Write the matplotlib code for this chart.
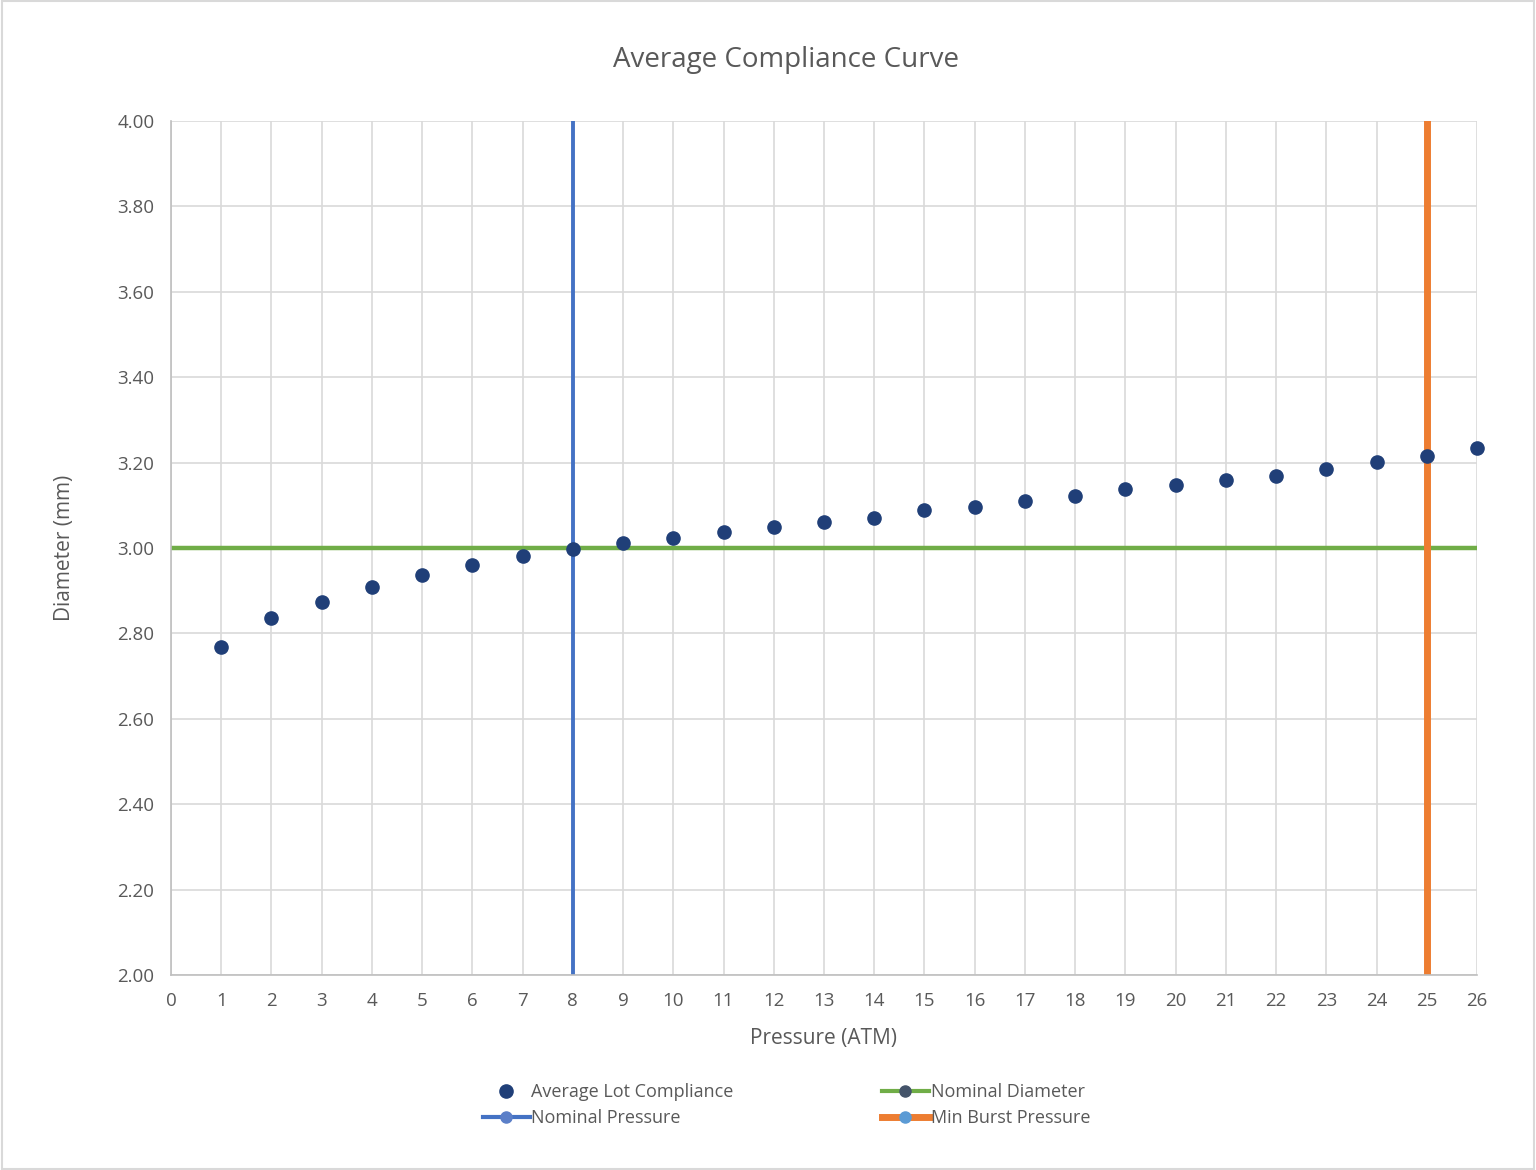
import matplotlib.pyplot as plt
from matplotlib.lines import Line2D
from matplotlib.patches import Rectangle

plt.rcParams['font.family'] = ['Open Sans', 'DejaVu Sans']

# data
pressure = list(range(1, 27))
diameter = [2.769, 2.835, 2.874, 2.909, 2.937, 2.961, 2.981, 2.997,
            3.011, 3.023, 3.038, 3.050, 3.060, 3.071, 3.088, 3.097,
            3.110, 3.121, 3.138, 3.147, 3.159, 3.169, 3.185, 3.202,
            3.216, 3.233]
nominal_diameter = 3.00
nominal_pressure = 8
min_burst_pressure = 25

x_ticks = list(range(0, 27))
y_ticks = [2.00, 2.20, 2.40, 2.60, 2.80, 3.00, 3.20, 3.40, 3.60, 3.80, 4.00]

navy = '#203F78'
green = '#70AD47'
blue = '#4472C4'
orange = '#ED7D31'
txt = '#595959'
grid = '#D9D9D9'

fig = plt.figure(figsize=(15.36, 11.7), dpi=100)
ax = fig.add_axes([0.1113, 0.1667, 0.9616 - 0.1113, 0.8966 - 0.1667])

ax.axhline(nominal_diameter, color=green, lw=3.2, zorder=2)
ax.axvline(nominal_pressure, color=blue, lw=2.8, zorder=2)
ax.axvline(min_burst_pressure, color=orange, lw=5, zorder=2)
ax.plot(pressure, diameter, 'o', color=navy, ms=9.5, zorder=3, clip_on=False)

ax.set_xlim(0, 26)
ax.set_ylim(2.0, 4.0)
ax.set_xticks(x_ticks)
ax.set_yticks(y_ticks)
ax.set_yticklabels(['%.2f' % v for v in y_ticks])
ax.grid(True, color=grid, lw=1.2, zorder=0)
ax.set_axisbelow(True)
for s in ['top', 'right']:
    ax.spines[s].set_visible(False)
for s in ['left', 'bottom']:
    ax.spines[s].set_color('#BFBFBF')
    ax.spines[s].set_linewidth(1.2)
ax.tick_params(length=0, labelsize=13.5, colors=txt, pad=12)

ax.set_xlabel('Pressure (ATM)', fontsize=15, color=txt, labelpad=13)
ax.set_ylabel('Diameter (mm)', fontsize=15, color=txt, labelpad=30)
fig.text(0.512, 0.949, 'Average Compliance Curve', fontsize=20, color=txt,
         ha='center', va='center')

handles = [
    Line2D([], [], ls='none', marker='o', color=navy, ms=9.5),
    Line2D([], [], color=blue, lw=3, marker='o', mfc='#5B7FC8', mec='#5B7FC8', ms=8),
    Line2D([], [], color=green, lw=3, marker='o', mfc='#44546A', mec='#44546A', ms=8),
    Line2D([], [], color=orange, lw=5, marker='o', mfc='#5B9BD5', mec='#5B9BD5', ms=8),
]
labels = ['Average Lot Compliance', 'Nominal Pressure',
          'Nominal Diameter', 'Min Burst Pressure']
fig.legend(handles, labels, ncol=2, loc='center', bbox_to_anchor=(0.512, 0.0555),
           frameon=False, fontsize=13, labelcolor=txt, handlelength=2.6,
           handletextpad=0.1, columnspacing=8.2, labelspacing=0.45)

fig.patches.append(Rectangle((0.001, 0.001), 0.998, 0.998, transform=fig.transFigure,
                             fill=False, edgecolor='#D9D9D9', lw=1.5))

fig.savefig('out.png', dpi=100)
